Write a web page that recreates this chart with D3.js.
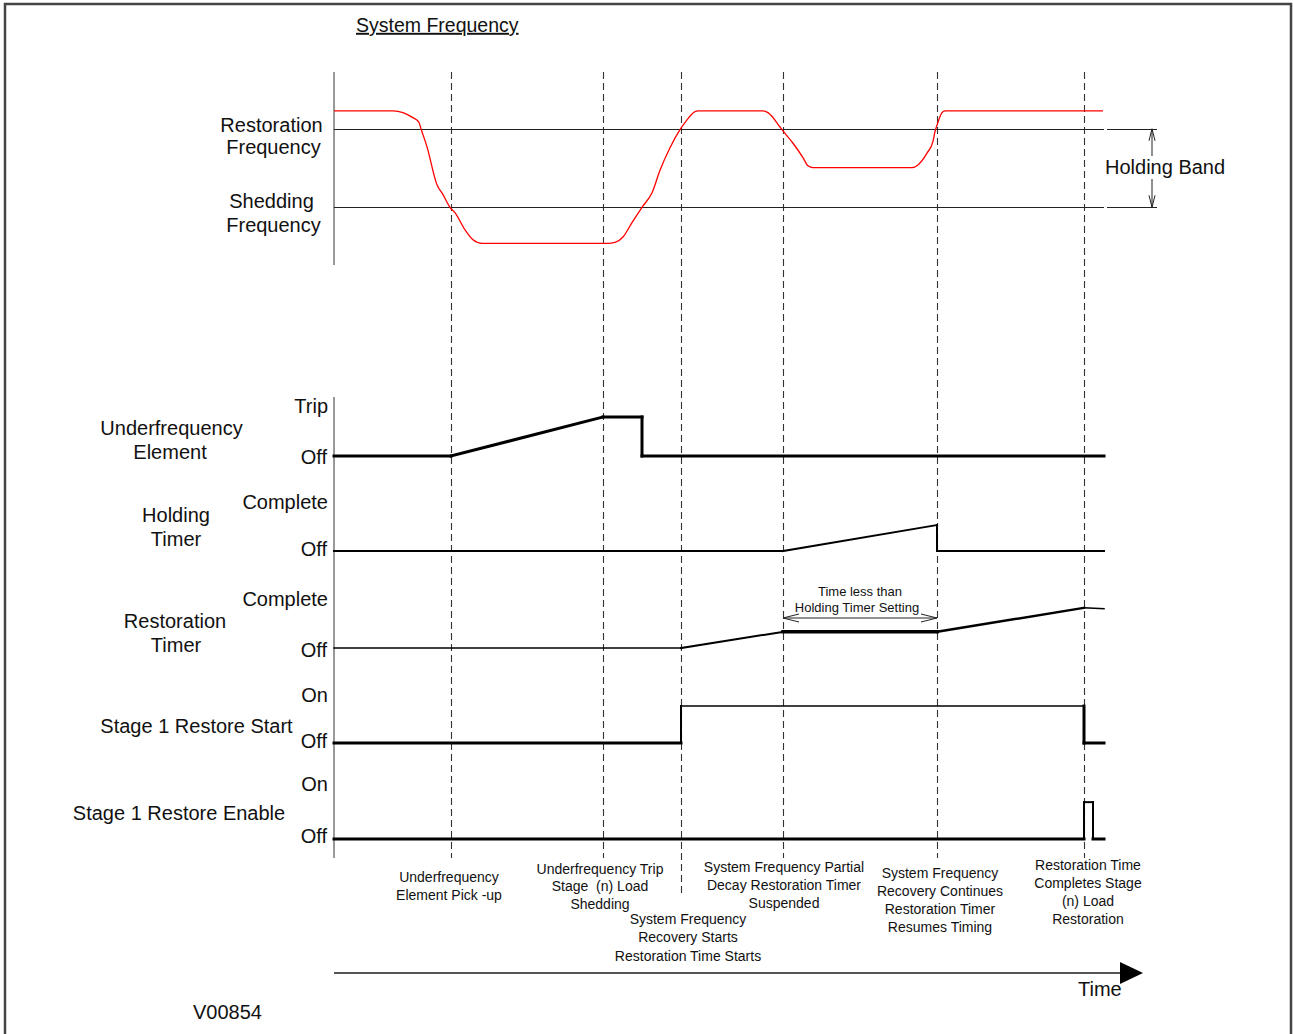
<html>
<head>
<meta charset="utf-8">
<script src="https://cdn.jsdelivr.net/npm/d3@7/dist/d3.min.js"></script>
<style>
  body { margin: 0; background: #fff; }
  text { font-family: "Liberation Sans", Arial, sans-serif; fill: #111; }
</style>
</head>
<body>
<div id="chart"></div>
<script>
// ---- data (time in arbitrary units, frequency in Hz) ----
var eventTimes = [11.7, 26.9, 34.7, 44.9, 60.3, 75.0];

var freqCurve = [
  [0, 50.00], [5.9, 50.00], [6.9, 49.98], [7.8, 49.93], [8.5, 49.87], [8.7, 49.80],
  [9.3, 49.60], [10.3, 49.18], [10.9, 49.07], [11.6, 48.93], [12.1, 48.87], [13.1, 48.68],
  [13.9, 48.57], [14.8, 48.53], [27.4, 48.53], [28.1, 48.54], [28.9, 48.60], [29.8, 48.76],
  [30.8, 48.93], [31.8, 49.09], [32.6, 49.34], [33.6, 49.59], [34.6, 49.79], [35.3, 49.90],
  [36.1, 49.99], [36.4, 50.00], [42.9, 50.00], [43.4, 49.98], [44.6, 49.82], [44.8, 49.79],
  [45.9, 49.64], [46.9, 49.48], [47.4, 49.39], [47.9, 49.37], [57.8, 49.37], [58.4, 49.40],
  [59.3, 49.53], [59.9, 49.66], [60.1, 49.77], [60.3, 49.84], [60.8, 49.98], [61.1, 50.00],
  [76.9, 50.00]
];
var restorationFreq = 49.80;
var sheddingFreq = 48.93;

// logic traces: [time, level] where 0 = Off, 1 = Trip / Complete / On
var ufElement = [[0, 0], [11.7, 0], [26.9, 0.78], [30.8, 0.78], [30.8, 0], [77, 0]];
var holdingTimer = [[0, 0], [44.9, 0], [60.3, 0.53], [60.3, 0], [77, 0]];
var restorationTimer = [[0, 0], [34.7, 0], [44.9, 0.33], [60.3, 0.33], [75, 0.82], [77, 0.80]];
var restoreStart = [[0, 0], [34.7, 0], [34.7, 0.77], [75, 0.77], [75, 0], [77, 0]];
var restoreEnable = [[0, 0], [75, 0], [75, 0.67], [75.9, 0.67], [75.9, 0], [77, 0]];

var eventLabels = [
  ["Underfrequency", "Element Pick -up"],
  ["Underfrequency Trip", "Stage  (n) Load", "Shedding"],
  ["System Frequency", "Recovery Starts", "Restoration Time Starts"],
  ["System Frequency Partial", "Decay Restoration Timer", "Suspended"],
  ["System Frequency", "Recovery Continues", "Restoration Timer", "Resumes Timing"],
  ["Restoration Time", "Completes Stage", "(n) Load", "Restoration"]
];

// ---- drawing ----
var W = 1293, H = 1034;
var svg = d3.select("#chart").append("svg").attr("width", W).attr("height", H);

svg.append("rect").attr("x", 5).attr("y", 4).attr("width", 1286).attr("height", 1040)
  .attr("fill", "none").attr("stroke", "#444").attr("stroke-width", 2.5);

var x = d3.scaleLinear().domain([0, 77]).range([334, 1104]);
var yF = d3.scaleLinear().domain([48.29, 50.43]).range([265, 72]);

// title
svg.append("text").attr("x", 356).attr("y", 25).attr("dy", "0.35em")
  .attr("font-size", 19.5).style("text-decoration", "underline").text("System Frequency");

// dashed event lines
svg.selectAll(".evt").data(eventTimes).enter().append("line")
  .attr("class", "evt")
  .attr("x1", d => Math.round(x(d)) + 0.5).attr("x2", d => Math.round(x(d)) + 0.5)
  .attr("y1", 72).attr("y2", (d, i) => i == 2 ? 897 : 858)
  .attr("stroke", "#333").attr("stroke-width", 1.1).attr("stroke-dasharray", "7,4");

// frequency panel
svg.append("line").attr("x1", 334).attr("x2", 334).attr("y1", 72).attr("y2", 265)
  .attr("stroke", "#777").attr("stroke-width", 1.5);
[restorationFreq, sheddingFreq].forEach(function(f) {
  svg.append("line").attr("x1", 334).attr("x2", 1104)
    .attr("y1", Math.round(yF(f)) + 0.5).attr("y2", Math.round(yF(f)) + 0.5)
    .attr("stroke", "#222").attr("stroke-width", 1);
  svg.append("line").attr("x1", 1107).attr("x2", 1157)
    .attr("y1", Math.round(yF(f)) + 0.5).attr("y2", Math.round(yF(f)) + 0.5)
    .attr("stroke", "#222").attr("stroke-width", 1);
});
svg.append("path")
  .attr("d", d3.line().x(d => x(d[0])).y(d => yF(d[1])).curve(d3.curveMonotoneX)(freqCurve))
  .attr("fill", "none").attr("stroke", "#f00").attr("stroke-width", 1.3);

// holding band arrow (broken around its label)
var hbTop = yF(restorationFreq), hbBot = yF(sheddingFreq);
svg.append("path")
  .attr("d", "M1152," + hbTop + "L1152,156M1152,179L1152," + hbBot +
             "M1149," + (hbTop + 12) + "L1152," + hbTop + "L1155," + (hbTop + 12) +
             "M1149," + (hbBot - 12) + "L1152," + hbBot + "L1155," + (hbBot - 12))
  .attr("fill", "none").attr("stroke", "#222").attr("stroke-width", 1);
svg.append("text").attr("x", 1105).attr("y", 167).attr("dy", "0.35em")
  .attr("font-size", 20).text("Holding Band");

var freqLabels = [["Restoration", 271.5, 125], ["Frequency", 273.5, 147],
                  ["Shedding", 271.5, 201], ["Frequency", 273.5, 225]];
freqLabels.forEach(function(l) {
  svg.append("text").attr("x", l[1]).attr("y", l[2]).attr("dy", "0.35em")
    .attr("text-anchor", "middle").attr("font-size", 20).text(l[0]);
});

// logic panel axis
svg.append("line").attr("x1", 334).attr("x2", 334).attr("y1", 397).attr("y2", 858)
  .attr("stroke", "#777").attr("stroke-width", 1.5);

var traces = [
  { data: ufElement, off: 456, on: 406, hi: "Trip", widths: [3, 3, 3, 3, 3],
    name: [["Underfrequency", 171.5, 428], ["Element", 170, 452]], offLbl: 457 },
  { data: holdingTimer, off: 551, on: 502, hi: "Complete", widths: [2, 2, 2, 2],
    name: [["Holding", 176, 515], ["Timer", 176, 539]], offLbl: 549 },
  { data: restorationTimer, off: 648, on: 599, hi: "Complete", widths: [1.5, 2, 3.5, 2.5, 1.5],
    name: [["Restoration", 175, 621], ["Timer", 176, 645]], offLbl: 650 },
  { data: restoreStart, off: 743, on: 695, hi: "On", widths: [3, 2, 1.5, 3, 3],
    name: [["Stage 1 Restore Start", 196.5, 726]], offLbl: 741 },
  { data: restoreEnable, off: 839, on: 784, hi: "On", widths: [3, 2, 2, 2, 3],
    name: [["Stage 1 Restore Enable", 179, 813]], offLbl: 836 }
];

traces.forEach(function(tr) {
  var y = d3.scaleLinear().domain([0, 1]).range([tr.off, tr.on]);
  var g = svg.append("g");
  g.selectAll("line").data(d3.pairs(tr.data)).enter().append("line")
    .attr("x1", d => x(d[0][0])).attr("y1", d => y(d[0][1]))
    .attr("x2", d => x(d[1][0])).attr("y2", d => y(d[1][1]))
    .attr("stroke", "#000").attr("stroke-linecap", "square")
    .attr("stroke-width", (d, i) => tr.widths[i]);
  g.append("text").attr("x", 328).attr("y", tr.on).attr("dy", "0.35em")
    .attr("text-anchor", "end").attr("font-size", 20).text(tr.hi);
  g.append("text").attr("x", 327).attr("y", tr.offLbl).attr("dy", "0.35em")
    .attr("text-anchor", "end").attr("font-size", 20).text("Off");
  tr.name.forEach(function(l) {
    g.append("text").attr("x", l[1]).attr("y", l[2]).attr("dy", "0.35em")
      .attr("text-anchor", "middle").attr("font-size", 20).text(l[0]);
  });
});

// holding timer setting annotation
var a1 = x(eventTimes[3]), a2 = x(eventTimes[4]);
svg.append("path")
  .attr("d", "M" + a1 + ",618L" + a2 + ",618" +
             "M" + (a1 + 16) + ",614L" + a1 + ",618L" + (a1 + 16) + ",622" +
             "M" + (a2 - 16) + ",614L" + a2 + ",618L" + (a2 - 16) + ",622")
  .attr("fill", "none").attr("stroke", "#222").attr("stroke-width", 1);
svg.append("text").attr("x", 860).attr("y", 591).attr("dy", "0.35em")
  .attr("text-anchor", "middle").attr("font-size", 13).text("Time less than");
svg.append("text").attr("x", 857).attr("y", 607).attr("dy", "0.35em")
  .attr("text-anchor", "middle").attr("font-size", 13).text("Holding Timer Setting");

// event descriptions
var labelPos = [[449, 877], [600, 869], [688, 919], [784, 867], [940, 873], [1088, 865]];
var labelGap = [18, 17.5, 18.5, 18, 18, 18];
eventLabels.forEach(function(lines, i) {
  lines.forEach(function(s, j) {
    svg.append("text").attr("x", labelPos[i][0]).attr("y", labelPos[i][1] + j * labelGap[i])
      .attr("dy", "0.35em").attr("text-anchor", "middle").attr("font-size", 14)
      .style("white-space", "pre").text(s);
  });
});

// time axis
svg.append("line").attr("x1", 334).attr("x2", 1125).attr("y1", 973).attr("y2", 973)
  .attr("stroke", "#555").attr("stroke-width", 2);
svg.append("path").attr("d", "M1120,962L1143,973L1120,984Z").attr("fill", "#000");
svg.append("text").attr("x", 1078).attr("y", 989).attr("dy", "0.35em")
  .attr("font-size", 20).text("Time");

svg.append("text").attr("x", 193).attr("y", 1012).attr("dy", "0.35em")
  .attr("font-size", 20).text("V00854");
</script>
</body>
</html>
